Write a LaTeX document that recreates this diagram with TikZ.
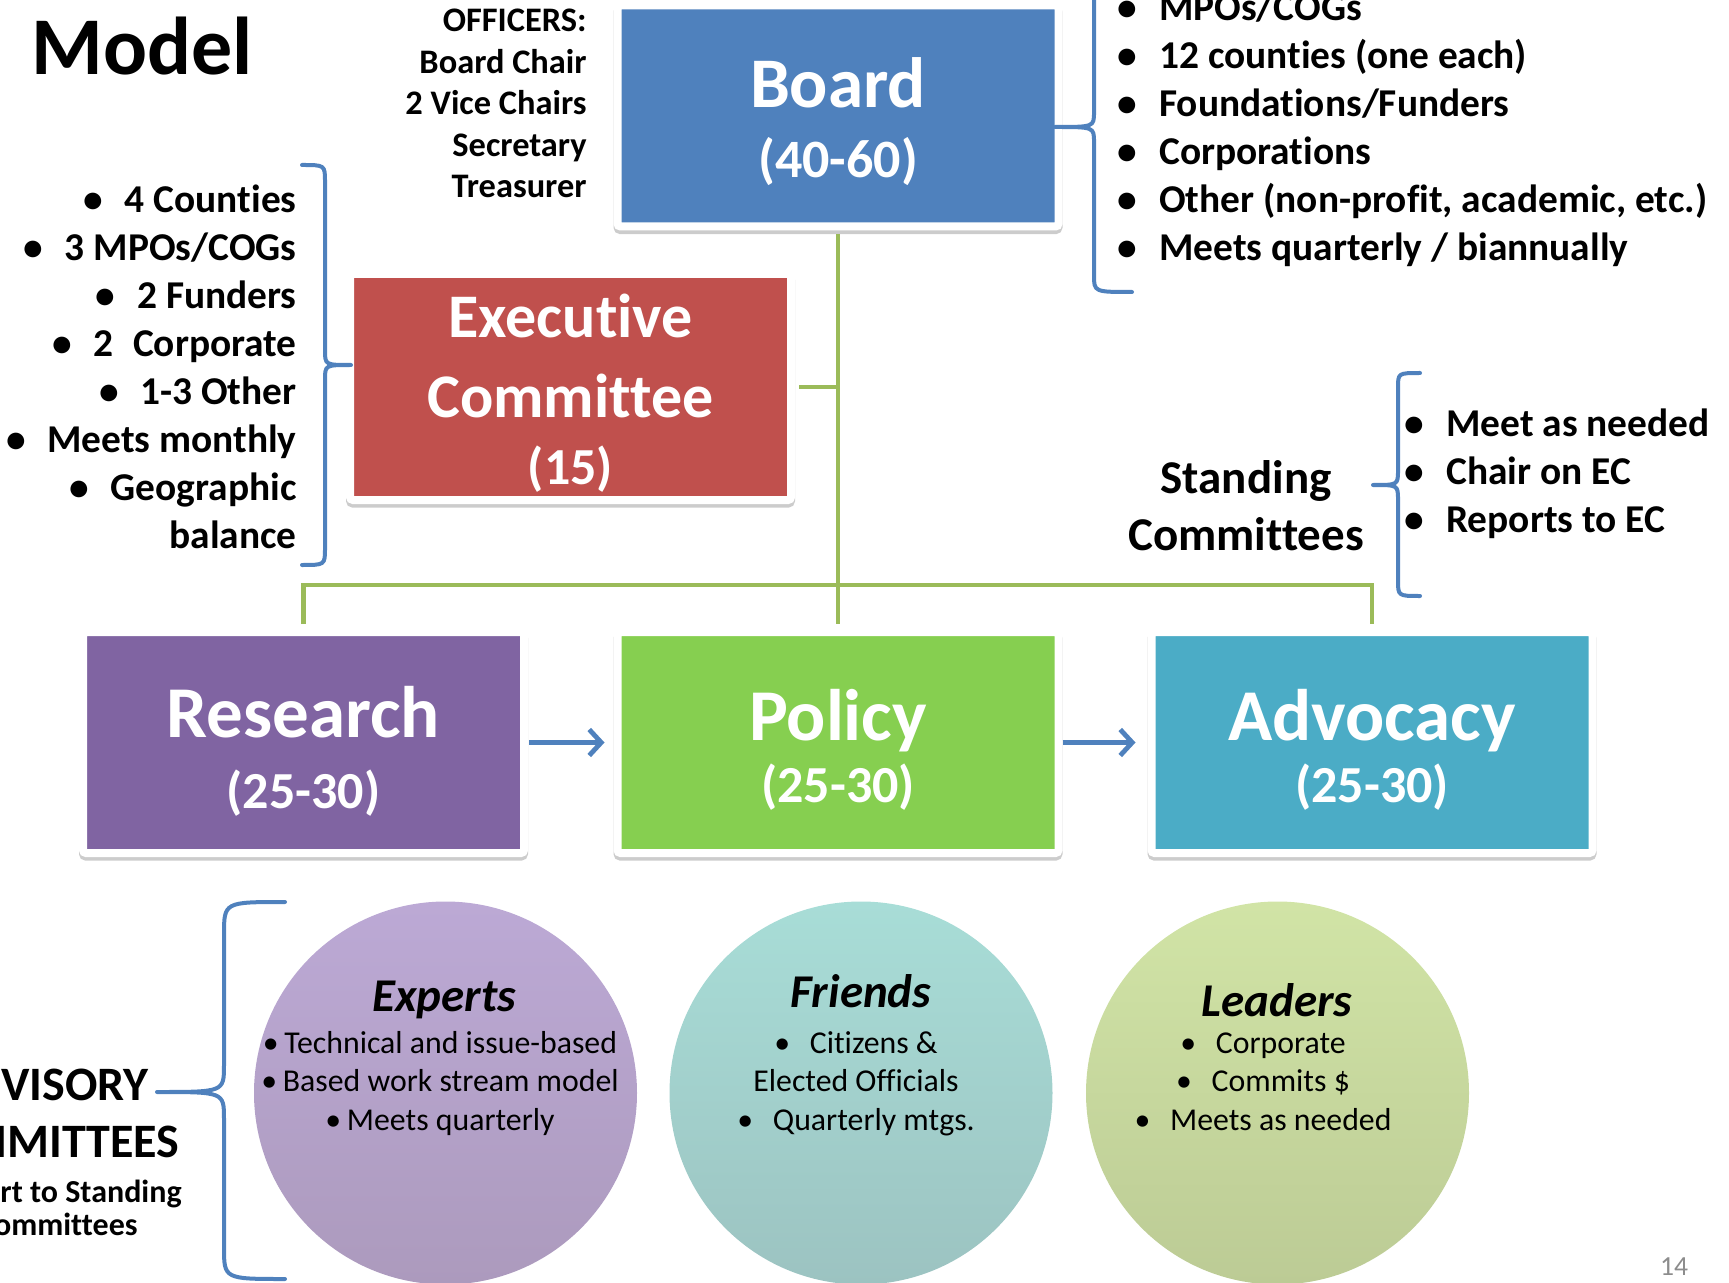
\documentclass[tikz,border=0pt]{standalone}
\usepackage{fontspec}
\setmainfont{Carlito}[Ligatures=NoCommon]
\usetikzlibrary{arrows.meta,shadows}

\definecolor{boardblue}{HTML}{4F81BD}
\definecolor{execred}{HTML}{C0504D}
\definecolor{respurple}{HTML}{8064A2}
\definecolor{polgreen}{HTML}{86CF50}
\definecolor{advteal}{HTML}{4BACC6}
\definecolor{linkgreen}{HTML}{9BBB59}
\definecolor{expertstop}{HTML}{BCA9D5}
\definecolor{expertsbot}{HTML}{AC9ABD}
\definecolor{friendstop}{HTML}{A8DDD7}
\definecolor{friendsbot}{HTML}{9CC3C1}
\definecolor{leaderstop}{HTML}{D1E4A6}
\definecolor{leadersbot}{HTML}{BCCB95}
\definecolor{pagegray}{HTML}{8C8C8C}

\newcommand{\fsz}[2]{\fontsize{#1}{#2}\selectfont}
\newcommand{\bul}{\textbullet\hspace{0.55em}}
\newcommand{\tabul}{\textbullet\hspace{0.62em}}
\newcommand{\smbul}{\textbullet\hspace{0.18em}}

\begin{document}
\begin{tikzpicture}[x=0.5pt, y=-0.5pt,
    unitbox/.style={rectangle, rounded corners=1.5pt, draw=white, line width=4pt,
      minimum width=220.5pt, minimum height=110.5pt, inner sep=0pt,
      text=white, align=center,
      general shadow={draw=black!40, line width=4pt, shadow yshift=-1.8pt, opacity=.5}},
    member/.style={circle, minimum size=191.5pt, inner sep=0pt},
    link/.style={linkgreen, line width=2.25pt},
    flow/.style={boardblue, line width=2.4pt, -{Straight Barb[length=6pt,width=13pt]}},
    bracket/.style={boardblue, line width=2pt, line cap=round, line join=round},
    itemlist/.style={inner sep=0pt, font=\fsz{19.7pt}{24pt}\bfseries},
    circtitle/.style={anchor=base, inner sep=0pt, font=\fsz{23.5pt}{28pt}\bfseries\itshape},
    circbody/.style={anchor=north, align=center, inner sep=0pt, font=\fsz{15.9pt}{19.25pt}},
  ]
  \useasboundingbox (0,0) rectangle (1729,1283);
  \clip (0,0) rectangle (1729,1283);

  % title and officers
  \node[anchor=base west, inner sep=0pt, font=\fsz{41pt}{48pt}\bfseries] (title) at (31,75) {Model};
  \node[anchor=north east, align=right, inner sep=0pt, font=\fsz{17.2pt}{20.8pt}\bfseries] (officers) at (587,2)
    {\strut OFFICERS:\\Board Chair\\2 Vice Chairs\\Secretary\\Treasurer};

  % committees
  \node[unitbox, fill=boardblue, font=\fsz{35.6pt}{35pt}\bfseries] (board) at (838,116)
    {\rule{0pt}{32pt}Board\\{\fsz{27pt}{30pt}(40-60)}\rule[-5pt]{0pt}{5pt}};
  \node[unitbox, fill=execred, font=\fsz{31pt}{40pt}\bfseries] (exec) at (570.5,387)
    {\rule{0pt}{31.5pt}Executive\\Committee\\[-6.25pt]{\fsz{26pt}{30pt}(15)}\rule[-7.75pt]{0pt}{7.75pt}};
  \node[unitbox, fill=respurple, font=\fsz{36.5pt}{35.5pt}\bfseries] (research) at (303.5,742.5)
    {\rule{0pt}{35pt}Research\\{\fsz{26pt}{30pt}(25-30)}\rule[-5pt]{0pt}{5pt}};
  \node[unitbox, fill=polgreen, font=\fsz{36.5pt}{31pt}\bfseries] (policy) at (838,742.5)
    {\rule{0pt}{33.5pt}Policy\\{\fsz{26pt}{30pt}(25-30)}\rule[-5pt]{0pt}{5pt}};
  \node[unitbox, fill=advteal, font=\fsz{36.5pt}{31pt}\bfseries] (advocacy) at (1372,742.5)
    {\rule{0pt}{33.5pt}Advocacy\\{\fsz{26pt}{30pt}(25-30)}\rule[-5pt]{0pt}{5pt}};

  % green links and flow arrows
  \coordinate (bus) at (838,585);
  \draw[link, shorten <=2pt, shorten >=2pt] (board.south) -- (policy.north);
  \draw[link, shorten <=2pt] (exec.east) -- (exec.east -| board.south);
  \draw[link, shorten <=2pt, shorten >=2pt] (research.north) |- (bus) -| (advocacy.north);
  \draw[flow, shorten <=0.5pt, shorten >=4.5pt] (research.east) -- (policy.west);
  \draw[flow, shorten <=0pt, shorten >=6pt] (policy.east) -- (advocacy.west);

  % member lists
  \node[itemlist, anchor=north east, align=right] (ecmembers) at (297,178.4)
    {\strut\bul 4 Counties\\\bul 3 MPOs/COGs\\\bul 2 Funders\\\bul 2\hspace{0.5em}Corporate\\\bul 1-3 Other\\\bul Meets monthly\\\bul Geographic\\balance};
  \node[itemlist, anchor=north west, align=left] (boardmembers) at (1117.5,-13.6)
    {\strut\bul MPOs/COGs\\\bul 12 counties (one each)\\\bul Foundations/Funders\\\bul Corporations\\\bul Other (non-profit, academic, etc.)\\\bul Meets quarterly / biannually};
  \node[itemlist, anchor=north west, align=left] (stdnotes) at (1404.5,402.4)
    {\strut\bul Meet as needed\\\bul Chair on EC\\\bul Reports to EC};
  \node[anchor=north, align=center, inner sep=0pt, font=\fsz{23.5pt}{28.5pt}\bfseries] (standing) at (1246,453)
    {\strut Standing\\Committees};

  % advisory label, cut at the page edge
  \node[anchor=base east, inner sep=0pt, font=\fsz{24pt}{28pt}\bfseries] (advisory) at (149,1100) {VISORY};
  \node[anchor=base east, inner sep=0pt, font=\fsz{24pt}{28pt}\bfseries] (advcommittees) at (180,1157) {MMITTEES};
  \node[anchor=base east, inner sep=0pt, font=\fsz{16pt}{18pt}\bfseries] (report) at (182,1202) {rt to Standing};
  \node[anchor=base east, inner sep=0pt, font=\fsz{16pt}{18pt}\bfseries] (reportcom) at (138,1235) {ommittees};

  % advisory circles
  \node[member, top color=expertstop, bottom color=expertsbot] (experts) at (445.5,1093) {};
  \node[member, top color=friendstop, bottom color=friendsbot] (friends) at (861,1093) {};
  \node[member, top color=leaderstop, bottom color=leadersbot] (leaders) at (1277.5,1093) {};
  \node[circtitle] (expertstitle) at (444,1011.3) {Experts};
  \node[circtitle] (friendstitle) at (861,1007.3) {Friends};
  \node[circtitle] (leaderstitle) at (1277,1016.3) {Leaders};
  \node[circbody] (expertsbody) at (440,1026)
    {\strut\smbul Technical and issue-based\\\smbul Based work stream model\\\smbul Meets quarterly};
  \node[circbody] (friendsbody) at (856,1026)
    {\strut\tabul Citizens \&\\Elected Officials\\\tabul Quarterly mtgs.};
  \node[circbody] (leadersbody) at (1263,1026)
    {\strut\tabul Corporate\\\tabul Commits \$\\\tabul Meets as needed};

  % braces
  \draw[bracket] (1132,292) .. controls (1094,292) .. (1094,275) -- (1094,142)
    .. controls (1094,127) .. (1055,127) .. controls (1094,127) .. (1094,112)
    -- (1094,-21) .. controls (1094,-38) .. (1132,-38);
  \draw[bracket] (302,165) .. controls (325,165) .. (325,182) -- (325,350)
    .. controls (325,365) .. (351,365) .. controls (325,365) .. (325,380)
    -- (325,548) .. controls (325,565) .. (302,565);
  \draw[bracket] (1420,373) .. controls (1398,373) .. (1398,388) -- (1398,470)
    .. controls (1398,485) .. (1373,485) .. controls (1398,485) .. (1398,500)
    -- (1398,580) .. controls (1398,596) .. (1420,596);
  \draw[bracket] (285,902) .. controls (224,902) .. (224,935) -- (224,1065)
    .. controls (224,1092) .. (157,1092) .. controls (224,1092) .. (224,1119)
    -- (224,1247) .. controls (224,1279) .. (285,1279);

  \node[anchor=base, inner sep=0pt, font=\fsz{13.8pt}{16pt}, text=pagegray] (pagenum) at (1674,1275) {14};
\end{tikzpicture}
\end{document}
